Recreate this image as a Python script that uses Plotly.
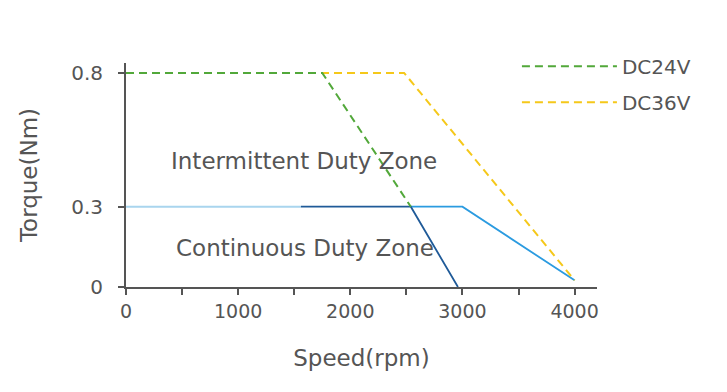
import plotly.graph_objects as go

# Peak (intermittent) torque curves
speed_dc24_peak = [0, 1750, 2540]
torque_dc24_peak = [0.8, 0.8, 0.3]
speed_dc36_peak = [0, 2480, 4000]
torque_dc36_peak = [0.8, 0.8, 0.025]

# Continuous torque curves
speed_cont_base = [0, 1560]
torque_cont_base = [0.3, 0.3]
speed_dc24_cont = [1560, 2540, 2960]
torque_dc24_cont = [0.3, 0.3, 0.0]
speed_dc36_cont = [2540, 3000, 4000]
torque_dc36_cont = [0.3, 0.3, 0.025]

x_tick_vals = [0, 500, 1000, 1500, 2000, 2500, 3000, 3500, 4000]
x_tick_text = ["0", "", "1000", "", "2000", "", "3000", "", "4000"]
y_tick_vals = [0, 0.3, 0.8]
y_tick_text = ["0", "0.3", "0.8"]

FONT = "DejaVu Sans"
GREY = "#555555"

fig = go.Figure()

fig.add_trace(go.Scatter(x=speed_cont_base, y=torque_cont_base, mode="lines",
                         line=dict(color="#a9d5ee", width=2), showlegend=False))
fig.add_trace(go.Scatter(x=speed_dc36_cont, y=torque_dc36_cont, mode="lines",
                         line=dict(color="#2b9be0", width=1.8), showlegend=False))
fig.add_trace(go.Scatter(x=speed_dc24_cont, y=torque_dc24_cont, mode="lines",
                         line=dict(color="#1f5a98", width=1.8), showlegend=False))
fig.add_trace(go.Scatter(x=speed_dc36_peak, y=torque_dc36_peak, mode="lines", name="DC36V",
                         legendgroup="b", legendrank=2,
                         line=dict(color="#f5c81a", width=2, dash="8px,5px")))
fig.add_trace(go.Scatter(x=speed_dc24_peak, y=torque_dc24_peak, mode="lines", name="DC24V",
                         legendgroup="a", legendrank=1,
                         line=dict(color="#52a83a", width=2, dash="8px,5px")))

fig.add_annotation(x=1590, y=0.471, text="Intermittent Duty Zone", showarrow=False,
                   font=dict(family=FONT, size=23, color=GREY))
fig.add_annotation(x=1600, y=0.146, text="Continuous Duty Zone", showarrow=False,
                   font=dict(family=FONT, size=23, color=GREY))

fig.update_layout(
    width=719, height=384,
    margin=dict(l=118, r=130, t=55, b=105),
    paper_bgcolor="white", plot_bgcolor="white",
    font=dict(family=FONT, color=GREY),
    legend=dict(x=0.83, y=1.072, xanchor="left", yanchor="top",
                bgcolor="rgba(0,0,0,0)", itemwidth=95, tracegroupgap=7,
                traceorder="grouped",
                font=dict(family=FONT, size=20, color=GREY)),
    xaxis=dict(range=[0, 4200], tickvals=x_tick_vals, ticktext=x_tick_text,
               showgrid=False, zeroline=False, showline=True, linecolor=GREY, linewidth=2,
               ticks="outside", ticklen=6, tickwidth=1.5, tickcolor=GREY,
               tickfont=dict(family=FONT, size=19, color=GREY),
               title=dict(text="Speed(rpm)", font=dict(family=FONT, size=23, color=GREY), standoff=29)),
    yaxis=dict(range=[0, 0.837], tickvals=y_tick_vals, ticktext=y_tick_text,
               showgrid=False, zeroline=False, showline=True, linecolor=GREY, linewidth=2,
               ticks="outside", ticklen=6, tickwidth=1.5, tickcolor=GREY,
               tickfont=dict(family=FONT, size=20, color=GREY), ticklabelstandoff=11,
               title=dict(text="Torque(Nm)", font=dict(family=FONT, size=23, color=GREY), standoff=27)),
)

fig.write_html("out.html")
